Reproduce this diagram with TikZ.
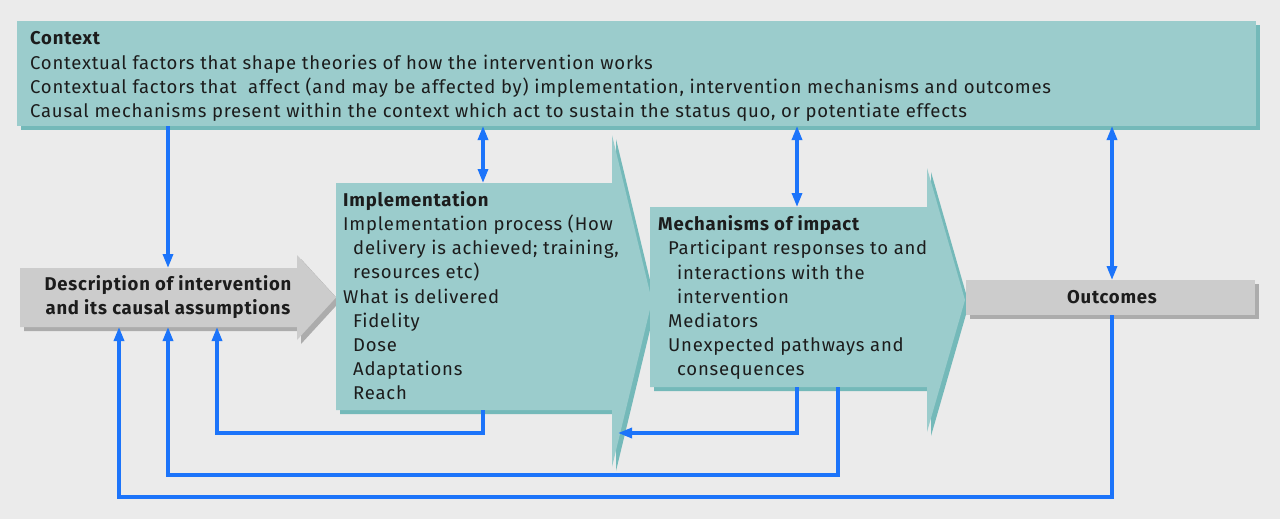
\documentclass[tikz,border=0pt]{standalone}
\usepackage{fontspec}
\setmainfont[LetterSpace=4.2]{Fira Sans}
\usetikzlibrary{arrows.meta}
\definecolor{backg}{RGB}{235,235,235}
\definecolor{boxteal}{RGB}{155,204,204}
\definecolor{boxtealsh}{RGB}{116,185,185}
\definecolor{boxgrey}{RGB}{204,204,204}
\definecolor{boxgreysh}{RGB}{172,172,172}
\definecolor{linkblue}{RGB}{28,116,250}
\definecolor{ink}{RGB}{28,28,28}
% block arrow: left, top, right, bottom, head top, head bottom, tip x, colour
\newcommand{\flowarrow}[8]{%
  \foreach \dd/\col in {4/#8sh,0/#8}{
    \fill[\col,shift={(\dd,\dd)}] (#1,#2) -- (#3,#2) -- (#3,#5) -- (#7,{(#5+#6)/2})
      -- (#3,#6) -- (#3,#4) -- (#1,#4) -- cycle;
  }}
% plain box: left, top, right, bottom, colour
\newcommand{\flowbox}[5]{%
  \foreach \dd/\col in {4/#5sh,0/#5}{
    \fill[\col,shift={(\dd,\dd)}] (#1,#2) rectangle (#3,#4);
  }}

\begin{document}
\begin{tikzpicture}[x=1pt,y=-1pt,
  txt/.style={inner sep=0,text=ink,align=left,font=\fontsize{18.5}{24.2}\selectfont},
  link/.style={draw=linkblue,line width=3.2pt},
  tip/.style={-{Triangle[length=14pt,width=10pt]}},
  tips/.style={{Triangle[length=14pt,width=10pt]}-{Triangle[length=14pt,width=10pt]}}]
  \fill[backg] (0,0) rectangle (1280,519);
  \useasboundingbox (0,0) rectangle (1280,519);
  % blocks
  \flowarrow{20}{268}{297}{327}{255}{340}{336}{boxgrey}
  \flowarrow{336}{183}{612}{410}{135}{467}{652}{boxteal}
  \flowarrow{650}{207}{927}{387}{168}{432}{965}{boxteal}
  \flowbox{966}{280}{1255}{315}{boxgrey}
  \flowbox{17}{21}{1256}{126}{boxteal}
  % texts
  \node[txt,anchor=north west] (ctx) at (30,31.5)
    {\textbf{Context}\\
     Contextual factors that shape theories of how the intervention works\\
     Contextual factors that \ affect (and may be affected by) implementation, intervention mechanisms and outcomes\\
     Causal mechanisms present within the context which act to sustain the status quo, or potentiate effects};
  \node[txt,align=center,font=\bfseries\fontsize{18.5}{24.2}\selectfont] (desc) at (168,297)
    {Description of intervention\\and its causal assumptions};
  \node[txt,anchor=north west] (impl) at (343,191)
    {\textbf{Implementation}\\
     Implementation process (How\\
     \hspace*{10pt}delivery is achieved; training,\\
     \hspace*{10pt}resources etc)\\
     What is delivered\\
     \hspace*{10pt}Fidelity\\
     \hspace*{10pt}Dose\\
     \hspace*{10pt}Adaptations\\
     \hspace*{10pt}Reach};
  \node[txt,anchor=north west] (mech) at (658,215.5)
    {\textbf{Mechanisms of impact}\\
     \hspace*{10pt}Participant responses to and\\
     \hspace*{19pt}interactions with the\\
     \hspace*{19pt}intervention\\
     \hspace*{10pt}Mediators\\
     \hspace*{10pt}Unexpected pathways and\\
     \hspace*{19pt}consequences};
  \node[txt,anchor=base,font=\bfseries\fontsize{18.5}{24.2}\selectfont] (outc) at (1112,303) {Outcomes};
  % connector ends
  \coordinate (ctx-desc) at (168,126);
  \coordinate (ctx-impl) at (483,126);
  \coordinate (ctx-mech) at (797,126);
  \coordinate (ctx-outc) at (1112,126);
  \coordinate (desc-top) at (168,268);
  \coordinate (desc-b1) at (119,327);
  \coordinate (desc-b2) at (168,327);
  \coordinate (desc-b3) at (217,327);
  \coordinate (impl-top) at (483,183);
  \coordinate (impl-bot) at (483,410);
  \coordinate (impl-back) at (618,433);
  \coordinate (mech-top) at (797,207);
  \coordinate (mech-bot1) at (797,387);
  \coordinate (mech-bot2) at (838,387);
  \coordinate (outc-top) at (1112,280);
  \coordinate (outc-bot) at (1112,315);
  % connectors
  \draw[link,tip] (ctx-desc) -- (desc-top);
  \draw[link,tips] (ctx-impl) -- (impl-top);
  \draw[link,tips] (ctx-mech) -- (mech-top);
  \draw[link,tips] (ctx-outc) -- (outc-top);
  \draw[link,tip] (impl-bot) -- ++(0,23) -| (desc-b3);
  \draw[link,tip] (mech-bot1) |- (impl-back);
  \draw[link,tip] (mech-bot2) -- ++(0,88) -| (desc-b2);
  \draw[link,tip] (outc-bot) -- ++(0,182) -| (desc-b1);
\end{tikzpicture}
\end{document}
